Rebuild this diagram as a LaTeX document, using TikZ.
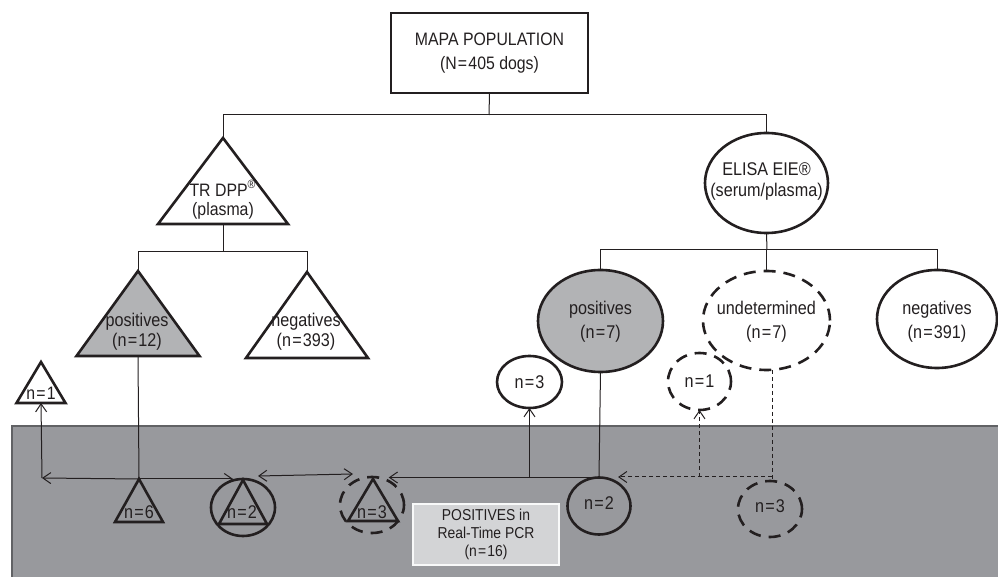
\documentclass[tikz,border=0pt]{standalone}
\usepackage{fontspec}
\setmainfont{Liberation Sans}[FakeStretch=0.88]
\usetikzlibrary{shapes.geometric, arrows.meta, calc}

\definecolor{inkgrey}{HTML}{231F20}
\definecolor{panelgrey}{HTML}{98999D}
\definecolor{paneledge}{HTML}{616265}
\definecolor{shadegrey}{HTML}{B2B3B5}
\definecolor{boxgrey}{HTML}{D3D4D6}

\newcommand{\eq}{\kern0.6pt=\kern0.6pt}

\tikzset{
  tri/.style={isosceles triangle, isosceles triangle stretches, shape border rotate=90,
    draw=inkgrey, line width=1.3pt, inner sep=0pt, outer sep=0pt, anchor=apex},
  oval/.style={ellipse, draw=inkgrey, line width=1.3pt, inner sep=0pt, outer sep=0pt},
  dashoval/.style={oval, dash pattern=on 6pt off 4pt},
  lbl/.style={text=inkgrey, font=\fontsize{9.2}{12}\selectfont, align=center, inner sep=0pt},
  link/.style={draw=inkgrey, line width=0.5pt},
  dlink/.style={link, dash pattern=on 2pt off 1.5pt},
}

\begin{document}
\begin{tikzpicture}[x=0.5pt, y=-0.5pt, >={Straight Barb[length=4pt,width=5.5pt]}]
\useasboundingbox (0,0) rectangle (998,577);

    % Grey panel (PCR results)
    \fill[panelgrey] (12,426) rectangle (1010,590);
    \draw[paneledge, line width=1.2pt] (12,590) -- (12,426) -- (1010,426);

    % Population
    \node[rectangle, draw=inkgrey, line width=0.7pt, minimum width=98.5pt, minimum height=40pt,
      lbl, font=\fontsize{9}{12.3}\selectfont] (pop) at (489.5,53) {MAPA POPULATION\\(N\eq405 dogs)};

    % Tests
    \node[tri, minimum width=65pt, minimum height=43pt] (dpp) at (223,138) {};
    \node[lbl, font=\fontsize{9}{9.5}\selectfont] (dpptxt) at (223,200) {TR DPP\textsuperscript{®}\\(plasma)};
    \node[oval, minimum width=61.5pt, minimum height=50pt] (elisa) at (766.5,183) {};
    \node[lbl, font=\fontsize{9.2}{10.5}\selectfont] (elisatxt) at (766.5,181) {ELISA EIE®\\(serum/plasma)};

    \coordinate (popjoin) at (489,115);
    \draw[link] (pop.south) -- (popjoin);
    \draw[link] (popjoin) -| (dpp.apex);
    \draw[link] (popjoin) -| (elisa.north);

    % TR DPP results
    \node[tri, fill=shadegrey, minimum width=61.5pt, minimum height=42.5pt] (dppPos) at (138,271) {};
    \node[lbl, font=\fontsize{9.2}{10}\selectfont] (dppPostxt) at (137,332) {positives\\(n\eq12)};
    \node[tri, minimum width=61pt, minimum height=43pt] (dppNeg) at (307,272) {};
    \node[lbl, font=\fontsize{9.2}{10}\selectfont] (dppNegtxt) at (306,332) {negatives\\(n\eq393)};

    \coordinate (dppjoin) at (223,252);
    \draw[link] (dpp.lower side) -- (dppjoin);
    \draw[link] (dppjoin) -| (dppPos.apex);
    \draw[link] (dppjoin) -| (dppNeg.apex);

    % ELISA results
    \node[oval, fill=shadegrey, minimum width=62.5pt, minimum height=51pt] (elPos) at (600.5,321) {};
    \node[lbl] (elPostxt) at (600.5,322) {positives\\(n\eq7)};
    \node[dashoval, minimum width=63.5pt, minimum height=49.5pt] (elUnd) at (766.5,320.5) {};
    \node[lbl] (elUndtxt) at (766.5,322) {undetermined\\(n\eq7)};
    \node[oval, minimum width=60pt, minimum height=49pt] (elNeg) at (937,319) {};
    \node[lbl] (elNegtxt) at (937,322) {negatives\\(n\eq391)};

    \coordinate (elisajoin) at (767,250);
    \draw[link] (elisa.south) -- (elisajoin);
    \draw[link] (elisajoin) -| (elPos.north);
    \draw[link] (elisajoin) -| (elUnd.north);
    \draw[link] (elisajoin) -| (elNeg.north);

    % Negative in PCR
    \node[tri, minimum width=24.5pt, minimum height=20.5pt] (tri1) at (41,362) {};
    \node[lbl, font=\fontsize{9}{9}\selectfont] (tri1txt) at (41,393) {n\eq1};
    \node[oval, minimum width=32.5pt, minimum height=26pt] (circ3) at (529.5,382) {};
    \node[lbl] (circ3txt) at (529.5,382) {n\eq3};
    \node[dashoval, minimum width=31.5pt, minimum height=28.5pt] (dcirc1) at (699.5,381.5) {};
    \node[lbl] (dcirc1txt) at (699.5,381.5) {n\eq1};

    % Positive in PCR
    \node[tri, minimum width=24pt, minimum height=21.5pt] (tri6) at (139,479) {};
    \node[lbl] (tri6txt) at (139,512) {n\eq6};
    \node[oval, minimum width=32pt, minimum height=28.5pt] (bothCirc) at (243,507.5) {};
    \node[tri, minimum width=24pt, minimum height=22pt] (bothTri) at (243,480) {};
    \node[lbl] (bothtxt) at (242,512) {n\eq2};
    \node[dashoval, minimum width=32pt, minimum height=28pt] (mixCirc) at (372,505) {};
    \node[tri, minimum width=25pt, minimum height=21pt] (mixTri) at (373,479) {};
    \node[lbl] (mixtxt) at (372,512) {n\eq3};
    \node[oval, minimum width=31.5pt, minimum height=28.5pt] (pcrCirc) at (599,506) {};
    \node[lbl] (pcrCirctxt) at (599,503) {n\eq2};
    \node[dashoval, minimum width=32pt, minimum height=28pt] (undCirc) at (770,509) {};
    \node[lbl] (undCirctxt) at (770,506) {n\eq3};
    \node[rectangle, fill=boxgrey, draw=white!85!boxgrey, line width=0.6pt, minimum width=73pt,
      minimum height=30.5pt, lbl, font=\fontsize{7.9}{9}\selectfont] (pcr) at (486,534.5) {POSITIVES in\\Real-Time PCR\\(n\eq16)};

    % Arrows inside the panel
    \coordinate (leftturn) at (42,478);
    \draw[link] (dppPos.lower side) -- (tri6.apex);
    \draw[link, ->] (tri6.apex) -- (leftturn);
    \draw[link, ->] (leftturn) -- (tri1.lower side);
    \draw[link, ->] (tri6.apex) -- (tri6.apex -| bothCirc.110);
    \draw[link, <->] ($(bothCirc.north)+(15,-3)$) -- ($(mixCirc.north)+(-19,-3)$);
    \draw[link] (elPos.south) -- (pcrCirc.north);
    \draw[link, ->] (pcrCirc.north) -- (pcrCirc.north -| mixCirc.55);
    \draw[link, ->] (pcrCirc.north -| circ3.south) -- (circ3.south);

    \coordinate (undturn) at (772,477);
    \draw[dlink] (elUnd.south -| undturn) -- (undCirc.north -| undturn);
    \draw[dlink, ->] (undturn) -- (undturn -| pcrCirc.50);
    \draw[dlink, ->] (undturn -| dcirc1.south) -- (dcirc1.south);

\end{tikzpicture}
\end{document}
